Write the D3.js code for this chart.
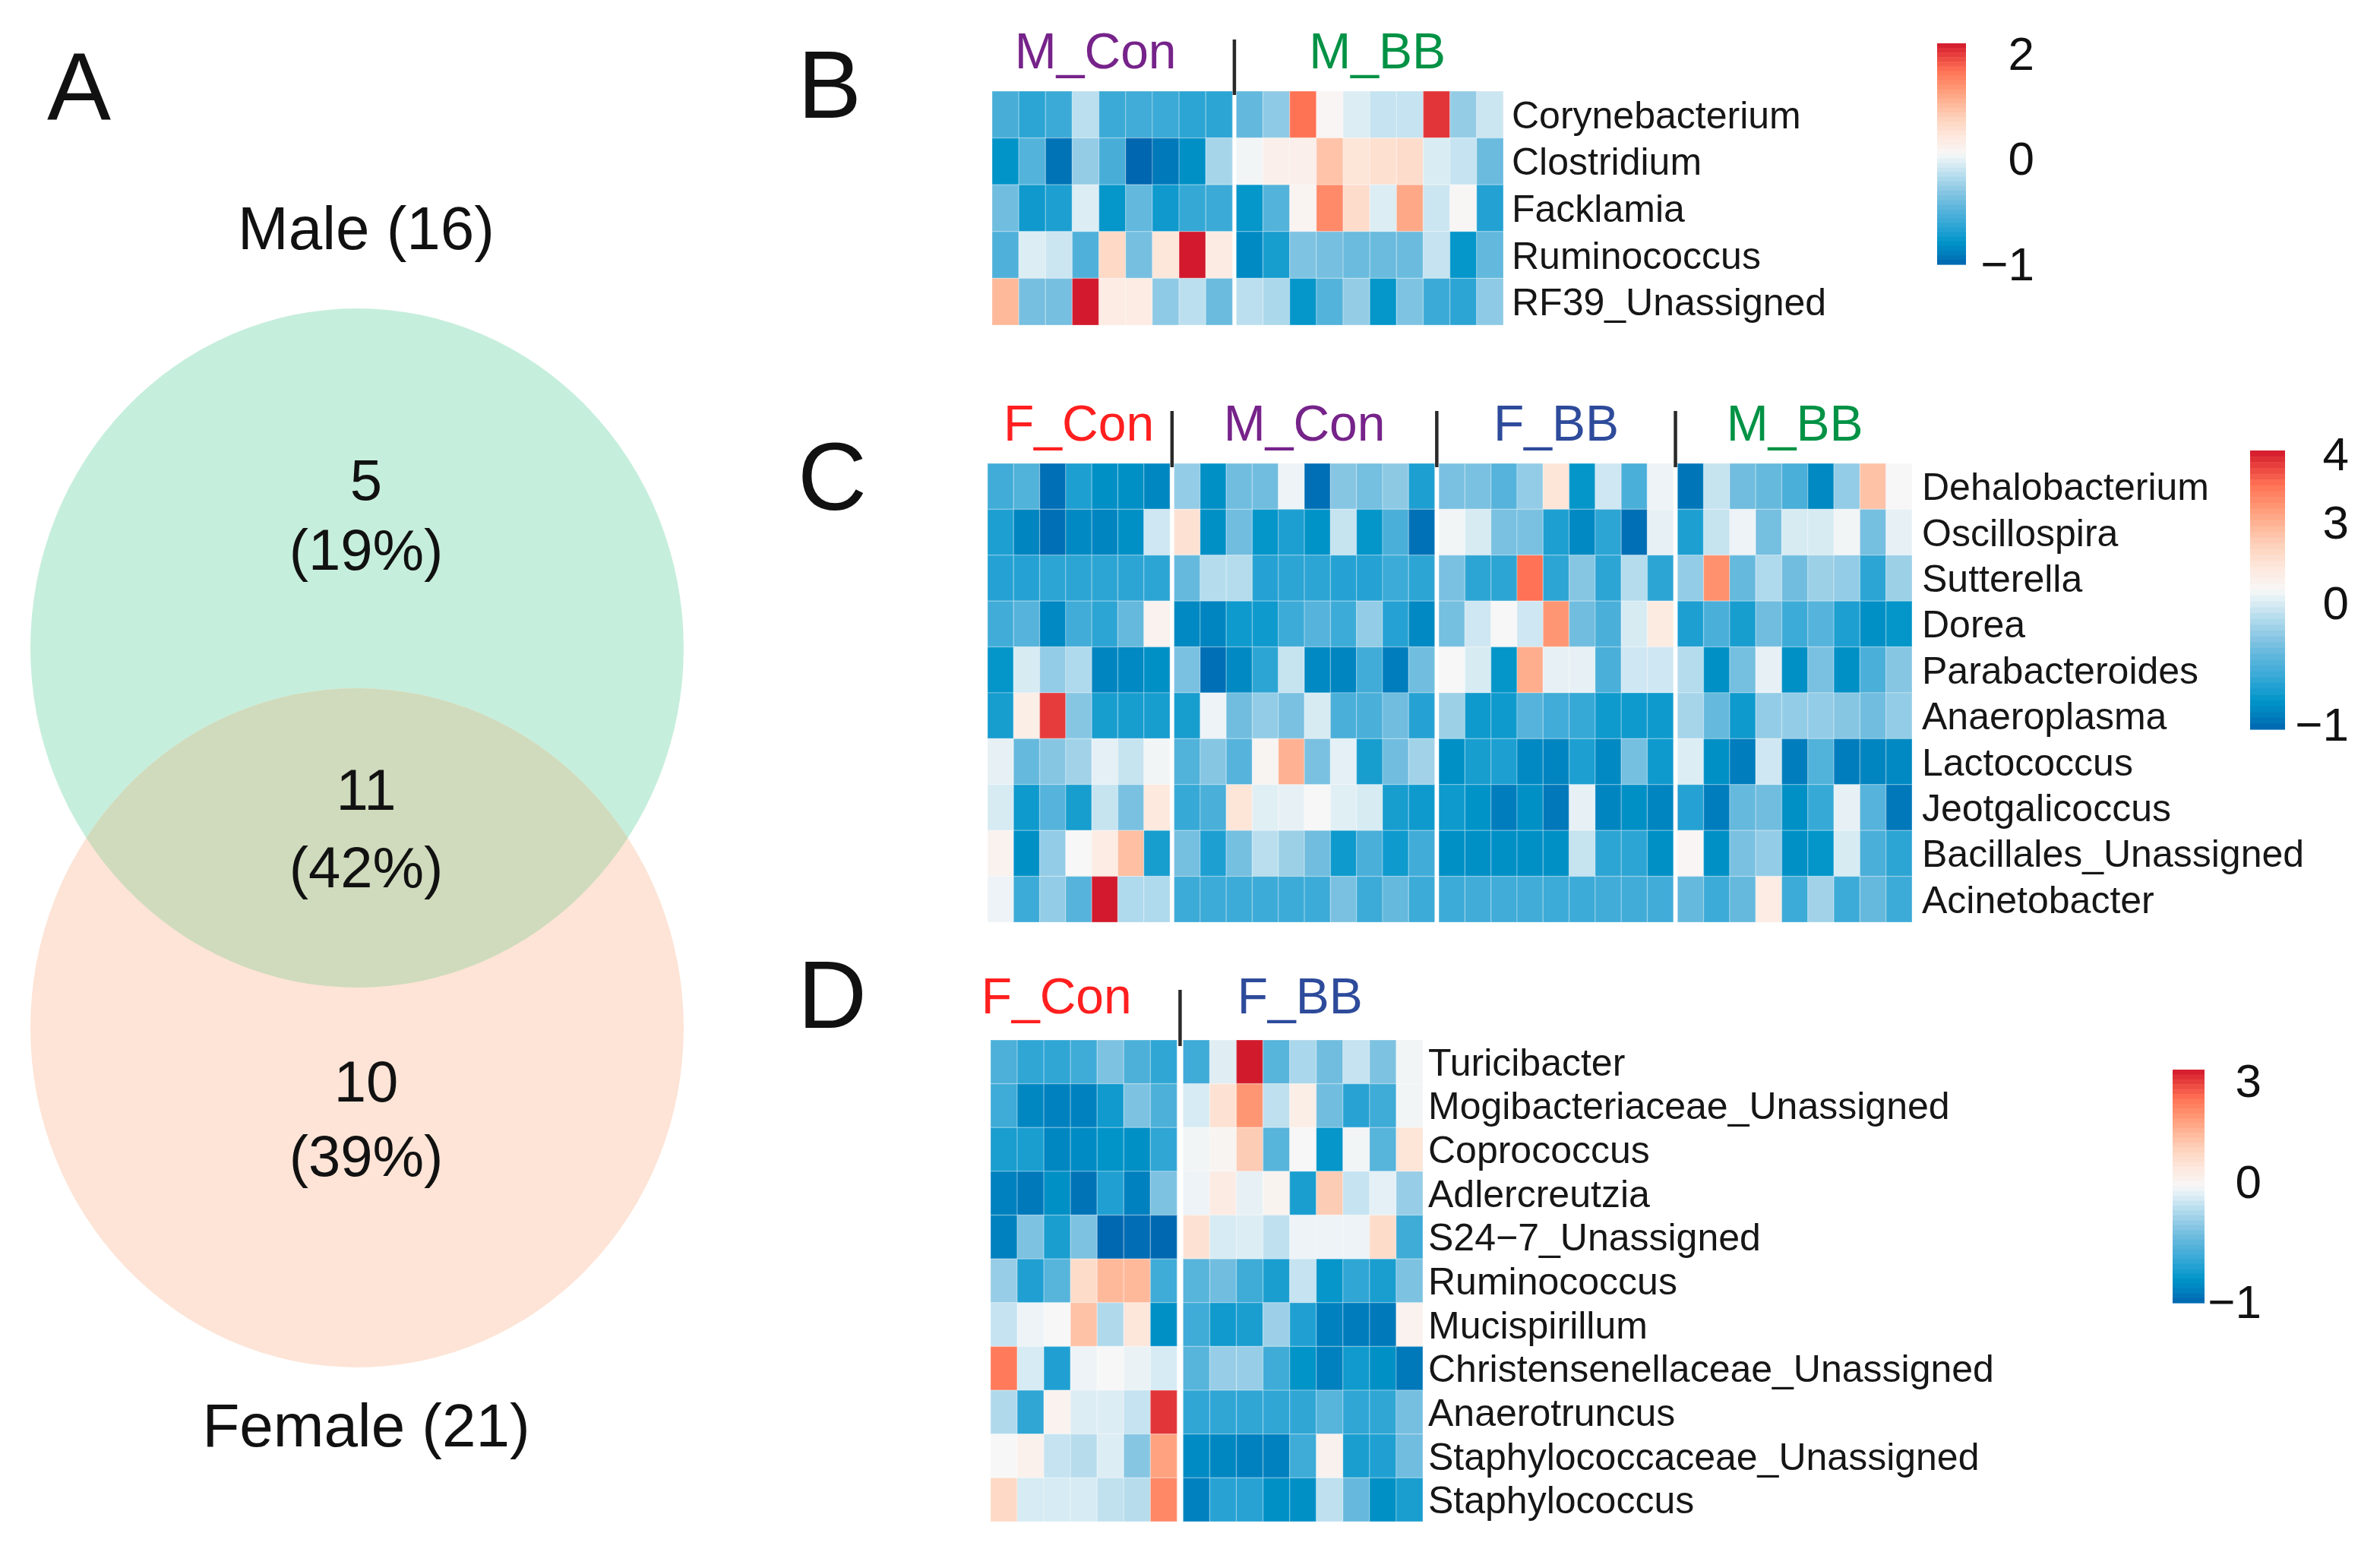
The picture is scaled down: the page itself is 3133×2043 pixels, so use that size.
<!DOCTYPE html>
<html><head><meta charset="utf-8">
<script src="https://cdn.jsdelivr.net/npm/d3@7"></script>
<style>html,body{margin:0;padding:0;background:#fff;} svg{display:block;font-family:"Liberation Sans",Arial,Helvetica,sans-serif;}</style>
</head><body><svg id="chart" width="3133" height="2043"></svg>
<script>
// ---------------- DATA ----------------
const vennSetLabels = ["Male (16)", "Female (21)"];
const vennCounts = [5, 11, 10];
const vennPercents = ["(19%)", "(42%)", "(39%)"];
const panelLetters = ["A", "B", "C", "D"];

const groupsB = ["M_Con", "M_BB"];
const groupSizesB = [9, 10];
const rowsB = ["Corynebacterium", "Clostridium", "Facklamia", "Ruminococcus", "RF39_Unassigned"];
const valuesB = [
  [-0.55,-0.65,-0.6,-0.15,-0.6,-0.58,-0.6,-0.65,-0.65, -0.45,-0.3,1.66,0.12,-0.05,-0.12,-0.12,2.02,-0.28,-0.1],
  [-0.8,-0.5,-0.95,-0.28,-0.55,-1.0,-0.93,-0.82,-0.22, 0.04,0.25,0.25,0.92,0.46,0.54,0.6,-0.06,-0.12,-0.42],
  [-0.4,-0.75,-0.7,-0.05,-0.78,-0.45,-0.75,-0.62,-0.6, -0.78,-0.5,0.16,1.45,0.6,-0.05,1.18,-0.1,0.1,-0.68],
  [-0.52,-0.05,-0.1,-0.52,0.65,-0.38,0.44,2.19,0.35, -0.85,-0.72,-0.35,-0.38,-0.42,-0.42,-0.42,-0.12,-0.78,-0.45],
  [1.03,-0.38,-0.38,2.19,0.33,0.33,-0.3,-0.15,-0.42, -0.15,-0.2,-0.78,-0.5,-0.28,-0.78,-0.35,-0.6,-0.65,-0.3]
];
const legendTicksB = [-1, 0, 2];

const groupsC = ["F_Con", "M_Con", "F_BB", "M_BB"];
const groupSizesC = [7, 10, 9, 9];
const rowsC = ["Dehalobacterium", "Oscillospira", "Sutterella", "Dorea", "Parabacteroides", "Anaeroplasma", "Lactococcus", "Jeotgalicoccus", "Bacillales_Unassigned", "Acinetobacter"];
const valuesC = [
  [-0.57,-0.5,-1.0,-0.71,-0.84,-0.84,-0.89, -0.25,-0.84,-0.38,-0.38,0.31,-1.0,-0.3,-0.36,-0.27,-0.71, -0.34,-0.34,-0.48,-0.25,1.4,-0.8,-0.04,-0.53,0.31, -0.97,-0.07,-0.38,-0.42,-0.53,-0.88,-0.25,2.55,0.47],
  [-0.71,-0.9,-1.0,-0.88,-0.9,-0.84,-0.04, 1.51,-0.84,-0.38,-0.8,-0.71,-0.82,-0.07,-0.8,-0.53,-0.99, 0.37,-0.01,-0.34,-0.34,-0.71,-0.88,-0.65,-1.0,0.21, -0.71,-0.07,0.31,-0.36,-0.01,-0.01,0.37,-0.36,0.21],
  [-0.68,-0.68,-0.65,-0.65,-0.65,-0.65,-0.65, -0.42,-0.13,-0.13,-0.68,-0.65,-0.65,-0.68,-0.68,-0.59,-0.65, -0.34,-0.65,-0.65,3.54,-0.65,-0.3,-0.65,-0.13,-0.65, -0.25,3.27,-0.42,-0.15,-0.38,-0.22,-0.25,-0.65,-0.22],
  [-0.57,-0.48,-0.88,-0.57,-0.65,-0.42,0.73, -0.88,-0.9,-0.76,-0.76,-0.59,-0.48,-0.59,-0.25,-0.68,-0.88, -0.36,-0.04,0.47,-0.04,3.23,-0.38,-0.53,-0.01,1.14, -0.71,-0.53,-0.73,-0.38,-0.59,-0.48,-0.71,-0.84,-0.8],
  [-0.8,-0.01,-0.25,-0.15,-0.9,-0.88,-0.84, -0.34,-1.0,-0.88,-0.65,-0.07,-0.88,-0.9,-0.57,-0.94,-0.38, 0.47,-0.01,-0.8,3.03,0.21,0.21,-0.53,-0.04,-0.04, -0.13,-0.84,-0.36,0.21,-0.84,-0.34,-0.84,-0.53,-0.3],
  [-0.73,0.99,3.84,-0.3,-0.73,-0.73,-0.73, -0.73,0.31,-0.38,-0.25,-0.34,-0.01,-0.53,-0.53,-0.38,-0.68, -0.22,-0.76,-0.76,-0.48,-0.57,-0.61,-0.76,-0.76,-0.76, -0.18,-0.42,-0.76,-0.25,-0.25,-0.25,-0.3,-0.38,-0.25],
  [0.21,-0.42,-0.3,-0.2,0.16,-0.07,0.37, -0.5,-0.3,-0.48,0.63,2.96,-0.34,0.16,-0.73,-0.38,-0.2, -0.84,-0.73,-0.71,-0.88,-0.9,-0.71,-0.88,-0.36,-0.76, 0.05,-0.84,-0.94,-0.04,-0.94,-0.5,-0.94,-0.9,-0.88],
  [-0.01,-0.76,-0.48,-0.73,-0.07,-0.34,1.25, -0.61,-0.53,1.4,0.1,0.21,0.47,0.1,-0.01,-0.73,-0.76, -0.76,-0.82,-0.94,-0.84,-0.96,0.21,-0.9,-0.84,-0.9, -0.68,-0.94,-0.42,-0.38,-0.84,-0.61,0.21,-0.48,-0.96],
  [0.73,-0.84,-0.25,0.47,1.09,2.65,-0.73, -0.36,-0.71,-0.36,-0.11,-0.22,-0.38,-0.76,-0.53,-0.76,-0.57, -0.84,-0.84,-0.84,-0.84,-0.84,-0.07,-0.65,-0.65,-0.84, 0.57,-0.84,-0.34,-0.25,-0.84,-0.8,-0.01,-0.53,-0.65],
  [0.31,-0.59,-0.25,-0.48,4.05,-0.15,-0.15, -0.59,-0.59,-0.59,-0.59,-0.59,-0.59,-0.34,-0.59,-0.42,-0.59, -0.59,-0.57,-0.57,-0.57,-0.59,-0.59,-0.57,-0.57,-0.57, -0.42,-0.59,-0.42,1.09,-0.59,-0.2,-0.59,-0.42,-0.59]
];
const legendTicksC = [-1, 0, 3, 4];

const groupsD = ["F_Con", "F_BB"];
const groupSizesD = [7, 9];
const rowsD = ["Turicibacter", "Mogibacteriaceae_Unassigned", "Coprococcus", "Adlercreutzia", "S24\u22127_Unassigned", "Ruminococcus", "Mucispirillum", "Christensenellaceae_Unassigned", "Anaerotruncus", "Staphylococcaceae_Unassigned", "Staphylococcus"];
const valuesD = [
  [-0.57,-0.67,-0.67,-0.62,-0.41,-0.57,-0.67, -0.62,-0.11,3.31,-0.53,-0.27,-0.45,-0.19,-0.41,-0.06],
  [-0.62,-0.88,-0.91,-0.91,-0.77,-0.41,-0.57, -0.14,0.55,1.93,-0.21,0.2,-0.45,-0.7,-0.62,-0.06],
  [-0.74,-0.74,-0.88,-0.86,-0.82,-0.84,-0.67, -0.06,-0.01,1.06,-0.53,-0.04,-0.8,-0.06,-0.53,0.48],
  [-0.91,-0.94,-0.84,-0.96,-0.72,-0.91,-0.41, -0.07,0.3,-0.09,0.0,-0.74,1.06,-0.19,-0.1,-0.33],
  [-0.91,-0.41,-0.74,-0.41,-1.0,-0.98,-1.0, 0.55,-0.14,-0.12,-0.21,-0.07,-0.07,-0.07,0.72,-0.62],
  [-0.33,-0.72,-0.53,0.72,1.41,1.41,-0.62, -0.53,-0.45,-0.62,-0.74,-0.19,-0.8,-0.67,-0.74,-0.41],
  [-0.19,-0.07,-0.04,1.24,-0.25,0.44,-0.84, -0.62,-0.77,-0.74,-0.31,-0.72,-0.91,-0.93,-0.94,0.03],
  [2.34,-0.14,-0.72,-0.07,-0.04,-0.08,-0.14, -0.53,-0.33,-0.33,-0.62,-0.82,-0.91,-0.77,-0.84,-0.94],
  [-0.25,-0.67,0.03,-0.12,-0.12,-0.19,3.04, -0.67,-0.67,-0.67,-0.67,-0.67,-0.53,-0.67,-0.67,-0.43],
  [-0.04,0.09,-0.19,-0.23,-0.12,-0.38,1.76, -0.86,-0.88,-0.91,-0.91,-0.62,0.06,-0.74,-0.72,-0.45],
  [0.79,-0.14,-0.14,-0.14,-0.2,-0.23,2.14, -0.91,-0.7,-0.7,-0.84,-0.84,-0.21,-0.48,-0.84,-0.74]
];
const legendTicksD = [-1, 0, 3];

// ---------------- STYLE ----------------
const groupColors = {"F_Con": "#ff1f1f", "M_Con": "#76238a", "F_BB": "#2e4b9b", "M_BB": "#009245"};
const rampStops = [-1,-0.9,-0.8,-0.7,-0.6,-0.5,-0.4,-0.3,-0.2,-0.1,0,0.15,0.3,0.45,0.6,0.75,0.9,1];
const rampColors = ["#0064af","#0080be","#0094c8","#20a0d2","#3eabd7","#58b4db","#76bfe0","#96cde6","#b5dced","#d7ebf3","#f7f7f7","#fde9de","#fdd5c0","#feb99b","#ff9673","#ff7355","#e63c3c","#d2192d"];
const ramp = d3.scaleLinear().domain(rampStops).range(rampColors).clamp(true);

const svg = d3.select("#chart");
svg.append("rect").attr("width", 3133).attr("height", 2043).attr("fill", "#fff");

// ---------------- PANEL LETTERS ----------------
const letterPos = [[62, 157], [1050, 155], [1050, 671], [1050, 1353]];
svg.selectAll("text.letter").data(panelLetters).join("text")
  .attr("class", "letter")
  .attr("x", (d, i) => letterPos[i][0]).attr("y", (d, i) => letterPos[i][1])
  .attr("font-size", 126).attr("fill", "#111").text(d => d);

// ---------------- VENN ----------------
const venn = svg.append("g");
const ellipses = [
  {cx: 470, cy: 853, rx: 430, ry: 447, fill: "#c6eedc"},
  {cx: 470, cy: 1353, rx: 430, ry: 447, fill: "#fde4d6"}
];
svg.append("defs").append("clipPath").attr("id", "clipPink")
  .append("ellipse").attr("cx", ellipses[1].cx).attr("cy", ellipses[1].cy)
  .attr("rx", ellipses[1].rx).attr("ry", ellipses[1].ry);
venn.selectAll("ellipse.set").data(ellipses).join("ellipse")
  .attr("class", "set")
  .attr("cx", d => d.cx).attr("cy", d => d.cy).attr("rx", d => d.rx).attr("ry", d => d.ry)
  .attr("fill", d => d.fill);
venn.append("ellipse")
  .attr("cx", ellipses[0].cx).attr("cy", ellipses[0].cy).attr("rx", ellipses[0].rx).attr("ry", ellipses[0].ry)
  .attr("fill", "#cfdbbc").attr("clip-path", "url(#clipPink)");

const setLabelY = [328, 1904];
venn.selectAll("text.setlab").data(vennSetLabels).join("text")
  .attr("class", "setlab").attr("x", 482).attr("y", (d, i) => setLabelY[i])
  .attr("text-anchor", "middle").attr("font-size", 80).attr("fill", "#111").text(d => d);
const countY = [658, 1066, 1450];
const pctY = [750, 1168, 1548];
venn.selectAll("text.cnt").data(vennCounts).join("text")
  .attr("class", "cnt").attr("x", 482).attr("y", (d, i) => countY[i])
  .attr("text-anchor", "middle").attr("font-size", 76).attr("fill", "#111").text(d => d);
venn.selectAll("text.pct").data(vennPercents).join("text")
  .attr("class", "pct").attr("x", 482).attr("y", (d, i) => pctY[i])
  .attr("text-anchor", "middle").attr("font-size", 76).attr("fill", "#111").text(d => d);

// ---------------- HEATMAPS ----------------
function drawHeat(cfg) {
  const g = svg.append("g");
  const N = d3.sum(cfg.sizes);
  const ng = cfg.groups.length;
  const groupOf = [];
  cfg.sizes.forEach((n, gi) => { for (let k = 0; k < n; k++) groupOf.push(gi); });
  const xBand = d3.scaleBand().domain(d3.range(N)).range([cfg.x0, cfg.x1 - cfg.gap * (ng - 1)]);
  const xOf = c => xBand(c) + groupOf[c] * cfg.gap;
  const yBand = d3.scaleBand().domain(cfg.rows).range([cfg.y0, cfg.y1]);
  const L = cfg.legend;
  const yLeg = d3.scaleLinear().domain(cfg.ticks).range(L.tickYs);
  const colorOf = v => ramp(2 * (L.bottom - yLeg(v)) / (L.bottom - L.top) - 1);

  const cells = [];
  cfg.values.forEach((row, r) => row.forEach((v, c) => cells.push({r: cfg.rows[r], c, v})));
  g.selectAll("rect.cell").data(cells).join("rect")
    .attr("class", "cell")
    .attr("x", d => xOf(d.c)).attr("y", d => yBand(d.r))
    .attr("width", xBand.bandwidth()).attr("height", yBand.bandwidth())
    .attr("fill", d => colorOf(d.v))
    .attr("stroke", "rgba(255,255,255,0.22)").attr("stroke-width", 1.5);

  // row labels
  g.selectAll("text.row").data(cfg.rows).join("text")
    .attr("class", "row").attr("x", cfg.labelX)
    .attr("y", d => yBand(d) + yBand.bandwidth() / 2).attr("dy", "0.36em")
    .attr("font-size", 50).attr("fill", "#161616").text(d => d);

  // group labels
  const starts = [];
  let acc = 0;
  cfg.sizes.forEach(n => { starts.push(acc); acc += n; });
  g.selectAll("text.grp").data(cfg.groups).join("text")
    .attr("class", "grp")
    .attr("x", (d, i) => (xOf(starts[i]) + xOf(starts[i] + cfg.sizes[i] - 1) + xBand.bandwidth()) / 2 + (cfg.labelShift ? cfg.labelShift[i] : 0))
    .attr("y", cfg.groupLabelY).attr("text-anchor", "middle")
    .attr("font-size", 66).attr("fill", d => groupColors[d]).text(d => d);

  // separator ticks
  g.selectAll("line.sep").data(d3.range(1, ng)).join("line")
    .attr("class", "sep")
    .attr("x1", i => xOf(starts[i]) - cfg.gap / 2).attr("x2", i => xOf(starts[i]) - cfg.gap / 2)
    .attr("y1", cfg.tickY0).attr("y2", cfg.tickY1)
    .attr("stroke", "#2a2a2a").attr("stroke-width", 4.5);

  // legend
  const steps = 48;
  const h = (L.bottom - L.top) / steps;
  g.selectAll("rect.leg").data(d3.range(steps)).join("rect")
    .attr("class", "leg").attr("x", L.x0).attr("width", L.x1 - L.x0)
    .attr("y", i => L.top + i * h).attr("height", h + 0.6)
    .attr("fill", i => ramp(2 * (L.bottom - (L.top + (i + 0.5) * h)) / (L.bottom - L.top) - 1));
  g.selectAll("text.legt").data(cfg.ticks).join("text")
    .attr("class", "legt").attr("x", L.labelX).attr("y", d => yLeg(d)).attr("dy", "0.36em")
    .attr("text-anchor", "end").attr("font-size", 62).attr("fill", "#111")
    .text(d => String(d).replace("-", "\u2212"));
}

drawHeat({
  rows: rowsB, groups: groupsB, sizes: groupSizesB, values: valuesB, ticks: legendTicksB,
  x0: 1306, x1: 1979, y0: 120, y1: 428, gap: 5, labelX: 1990,
  groupLabelY: 90, tickY0: 52, tickY1: 125, labelShift: [-22, 10],
  legend: {x0: 2550, x1: 2588, top: 57, bottom: 348, tickYs: [347, 208, 70], labelX: 2678}
});
drawHeat({
  rows: rowsC, groups: groupsC, sizes: groupSizesC, values: valuesC, ticks: legendTicksC,
  x0: 1300, x1: 2517, y0: 610, y1: 1214, gap: 5.5, labelX: 2530,
  groupLabelY: 580, tickY0: 541, tickY1: 615,
  legend: {x0: 2962, x1: 3008, top: 593, bottom: 960, tickYs: [953, 793, 687, 597], labelX: 3092}
});
drawHeat({
  rows: rowsD, groups: groupsD, sizes: groupSizesD, values: valuesD, ticks: legendTicksD,
  x0: 1304, x1: 1873, y0: 1369, y1: 2003, gap: 8, labelX: 1880,
  groupLabelY: 1334, tickY0: 1303, tickY1: 1377, labelShift: [-36, -4],
  legend: {x0: 2860, x1: 2902, top: 1408, bottom: 1715, tickYs: [1713, 1555, 1422], labelX: 2977}
});
</script>
</body></html>
